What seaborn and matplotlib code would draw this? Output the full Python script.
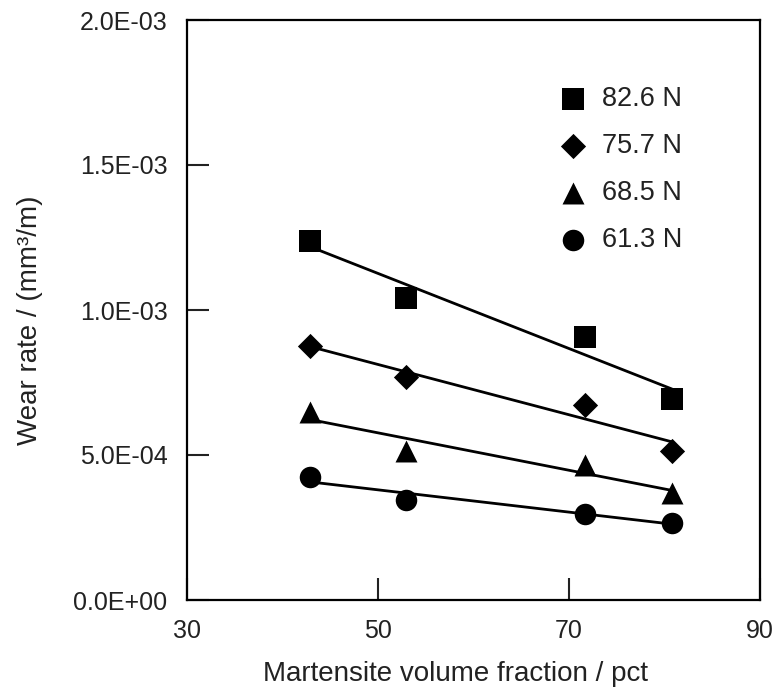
import matplotlib
matplotlib.use("Agg")
import matplotlib.pyplot as plt
import seaborn as sns
import numpy as np
import pandas as pd
from matplotlib.ticker import FuncFormatter

# Data
martensite = [42.9, 52.9, 71.7, 80.8]
loads = ["82.6 N", "75.7 N", "68.5 N", "61.3 N"]
wear_826 = [1.237e-3, 1.043e-3, 0.906e-3, 0.693e-3]
wear_757 = [0.876e-3, 0.768e-3, 0.673e-3, 0.513e-3]
wear_685 = [0.647e-3, 0.515e-3, 0.464e-3, 0.368e-3]
wear_613 = [0.425e-3, 0.344e-3, 0.298e-3, 0.267e-3]
x_ticks = [30, 50, 70, 90]
y_ticks = [0.0, 5.0e-4, 1.0e-3, 1.5e-3, 2.0e-3]

series = [wear_826, wear_757, wear_685, wear_613]
markers = {"82.6 N": "s", "75.7 N": "D", "68.5 N": "^", "61.3 N": "o"}
msize = {"s": 240, "D": 165, "^": 250, "o": 240}

df = pd.DataFrame({
    "x": np.tile(martensite, len(loads)),
    "y": np.concatenate(series),
    "load": np.repeat(loads, len(martensite)),
})

sns.set_theme(style="ticks")
plt.rcParams["font.family"] = ["Liberation Sans", "DejaVu Sans"]

fig = plt.figure(figsize=(7.78, 6.9), dpi=100)
ax = fig.add_axes([187 / 778, 1 - 600 / 690, (760 - 187) / 778, (600 - 20) / 690])

for ld in loads:
    sub = df[df["load"] == ld]
    m = markers[ld]
    sns.regplot(data=sub, x="x", y="y", ax=ax, ci=None, color="black",
                marker=m, truncate=True, label=ld,
                scatter_kws={"s": msize[m], "linewidths": 0, "alpha": 1, "zorder": 3},
                line_kws={"linewidth": 2.0, "zorder": 2})

ax.set_xlim(30, 90)
ax.set_ylim(0, 2.0e-3)
ax.set_xticks(x_ticks)
ax.set_yticks(y_ticks)
ax.yaxis.set_major_formatter(FuncFormatter(lambda v, p: f"{v:.1E}"))
ax.tick_params(direction="in", length=16, width=1.5, labelsize=18, colors="#222222")
ax.tick_params(axis="y", pad=14)
ax.tick_params(axis="x", pad=14)
for s in ax.spines.values():
    s.set_linewidth(1.6)
    s.set_color("black")

ax.set_xlabel("Martensite volume fraction / pct", fontsize=20, color="#222222")
ax.xaxis.set_label_coords(0.469, -0.127)
ax.xaxis.label.set_va("center")
ax.set_ylabel("Wear rate / (mm³/m)", fontsize=20, color="#222222")
ax.yaxis.set_label_coords(-0.274, 0.483)
ax.yaxis.label.set_va("center")

handles, labels = ax.get_legend_handles_labels()
sc_h = [h for h, l in zip(handles, labels) if l in loads]
sc_l = [l for l in labels if l in loads]
leg = ax.legend(sc_h, sc_l, loc="upper left", bbox_to_anchor=(0.627, 0.905),
                frameon=False, fontsize=19.5, handlelength=1.2, handletextpad=0.44,
                labelspacing=0.78, markerscale=1.0, borderaxespad=0)
for t in leg.get_texts():
    t.set_color("#222222")

fig.savefig("out.png", dpi=100)
